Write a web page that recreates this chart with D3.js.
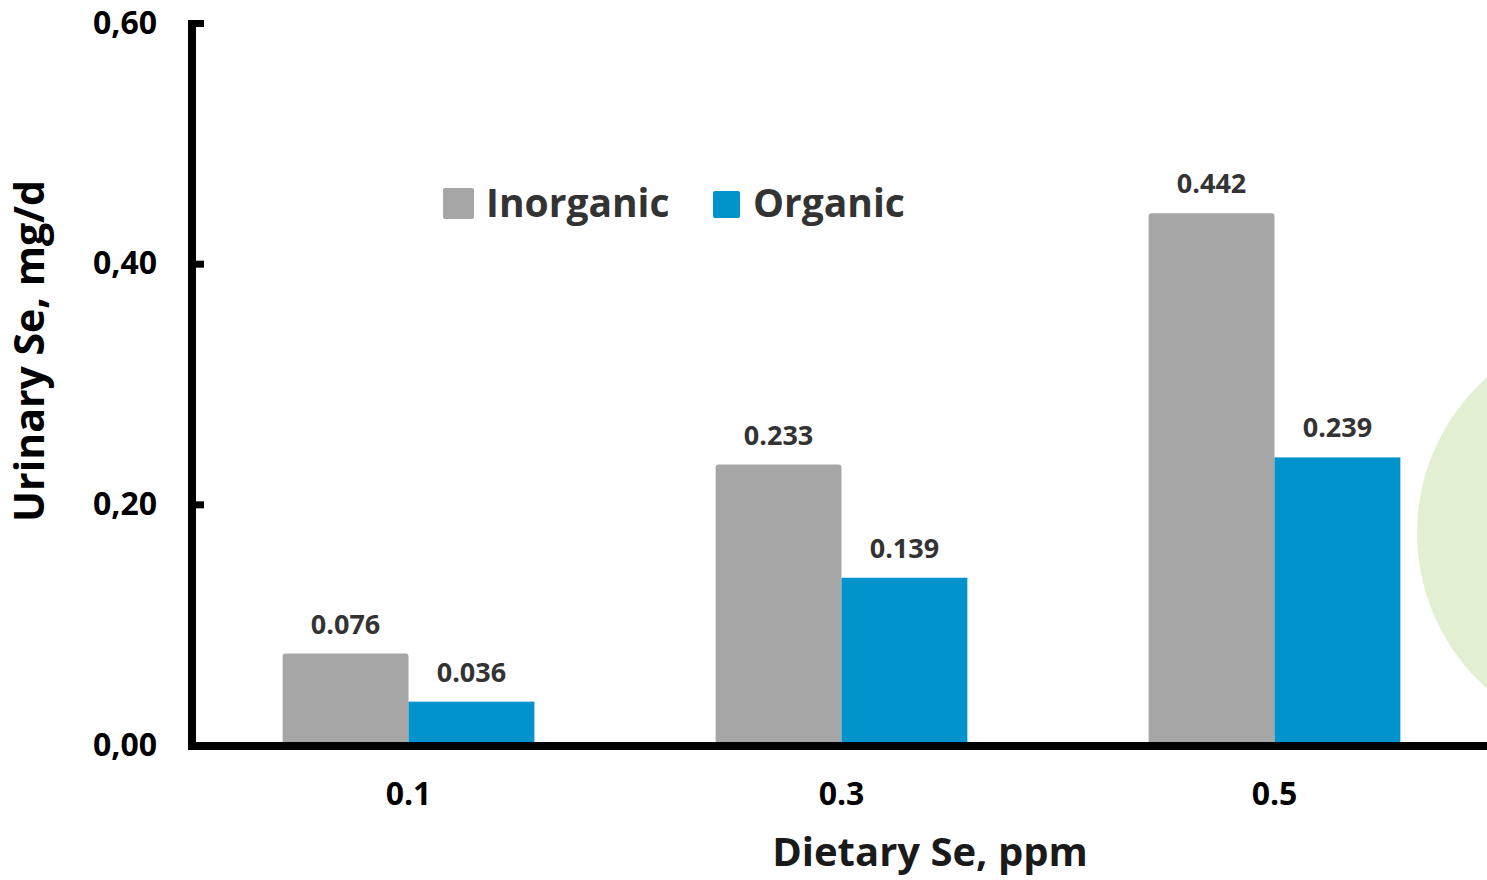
<!DOCTYPE html>
<html>
<head>
<meta charset="utf-8">
<script src="https://cdn.jsdelivr.net/npm/d3@7"></script>
<style>
  html, body { margin: 0; padding: 0; background: #ffffff; }
  svg { display: block; font-family: "Open Sans", sans-serif; }
</style>
</head>
<body>
<svg id="chart" width="1487" height="880"></svg>
<script>
// Urinary selenium excretion by dietary selenium level and source
const categories = ["0.1", "0.3", "0.5"];
const seriesNames = ["Inorganic", "Organic"];
const inorganicValues = [0.076, 0.233, 0.442];
const organicValues = [0.036, 0.139, 0.239];
const yTickValues = [0, 0.2, 0.4, 0.6];
const yTickLabels = ["0,00", "0,20", "0,40", "0,60"];
const seriesColors = ["#a6a6a6", "#0093cc"];

const svg = d3.select("#chart");
const W = 1487, H = 880;
svg.append("rect").attr("width", W).attr("height", H).attr("fill", "#ffffff");

// decorative disc at the right edge
svg.append("circle")
  .attr("cx", 1625).attr("cy", 533).attr("r", 208)
  .attr("fill", "#e2efd2");

const axisX = 192, baseY = 746;

const x0 = d3.scaleBand().domain(categories).range([192, 1491]).padding(0);
const x1 = d3.scaleBand().domain(seriesNames)
  .range([0, x0.bandwidth()]).paddingInner(0).paddingOuter(0.72);
const y = d3.scaleLinear().domain([0, 0.6]).range([745, 23]);

const rows = categories.map((c, i) => ({
  cat: c,
  vals: [
    { s: seriesNames[0], v: inorganicValues[i], color: seriesColors[0] },
    { s: seriesNames[1], v: organicValues[i], color: seriesColors[1] }
  ]
}));

const groups = svg.append("g").selectAll("g").data(rows).join("g")
  .attr("transform", d => `translate(${x0(d.cat)},0)`);

groups.selectAll("rect").data(d => d.vals).join("rect")
  .attr("x", d => x1(d.s))
  .attr("y", d => y(d.v))
  .attr("width", x1.bandwidth())
  .attr("height", d => y(0) - y(d.v))
  .attr("rx", d => d.s === "Inorganic" ? 3 : 0)
  .attr("fill", d => d.color);

groups.selectAll("text").data(d => d.vals).join("text")
  .attr("x", d => x1(d.s) + x1.bandwidth() / 2)
  .attr("y", d => y(d.v) - 20)
  .attr("text-anchor", "middle")
  .attr("font-size", 27)
  .attr("font-weight", 700)
  .attr("fill", "#333333")
  .text(d => d.v.toFixed(3));

// y axis with inward ticks
const yAxis = d3.axisLeft(y)
  .tickValues(yTickValues)
  .tickFormat((d, i) => yTickLabels[i])
  .tickSizeInner(-12).tickSizeOuter(0).tickPadding(35);
const gy = svg.append("g").attr("transform", `translate(${axisX},0)`).call(yAxis);
gy.select(".domain").attr("stroke", "#000").attr("stroke-width", 8)
  .attr("d", `M0,20V${baseY}`);
gy.selectAll(".tick line").attr("stroke", "#000").attr("stroke-width", 7);
gy.selectAll(".tick text")
  .attr("font-family", "'Open Sans', sans-serif")
  .attr("font-size", 32).attr("font-weight", 700).attr("fill", "#000");

// x axis
const xAxis = d3.axisBottom(x0).tickSize(0).tickPadding(0);
const gx = svg.append("g").attr("transform", `translate(0,${baseY})`).call(xAxis);
gx.select(".domain").attr("stroke", "#000").attr("stroke-width", 8)
  .attr("d", `M${axisX - 4},0H${W}`);
gx.selectAll(".tick text")
  .attr("font-family", "'Open Sans', sans-serif")
  .attr("font-size", 32).attr("font-weight", 700).attr("fill", "#000")
  .attr("y", 59).attr("dy", 0);

// legend
const legend = svg.append("g");
const legendItems = [
  { name: seriesNames[0], color: seriesColors[0], bx: 443, by: 188, size: 31, tx: 486 },
  { name: seriesNames[1], color: seriesColors[1], bx: 713, by: 191, size: 27, tx: 753 }
];
legendItems.forEach(it => {
  legend.append("rect")
    .attr("x", it.bx).attr("y", it.by)
    .attr("width", it.size).attr("height", it.size)
    .attr("rx", 2).attr("fill", it.color);
  legend.append("text")
    .attr("x", it.tx).attr("y", 217)
    .attr("font-size", 39).attr("font-weight", 700)
    .attr("fill", "#333333")
    .text(it.name);
});

// axis titles
svg.append("text")
  .attr("x", 930).attr("y", 866)
  .attr("text-anchor", "middle")
  .attr("font-size", 40).attr("font-weight", 700).attr("fill", "#1a1a1a")
  .text("Dietary Se, ppm");

svg.append("text")
  .attr("transform", "translate(44,351) rotate(-90)")
  .attr("text-anchor", "middle")
  .attr("font-size", 41).attr("font-weight", 700).attr("fill", "#000")
  .text("Urinary Se, mg/d");
</script>
</body>
</html>
